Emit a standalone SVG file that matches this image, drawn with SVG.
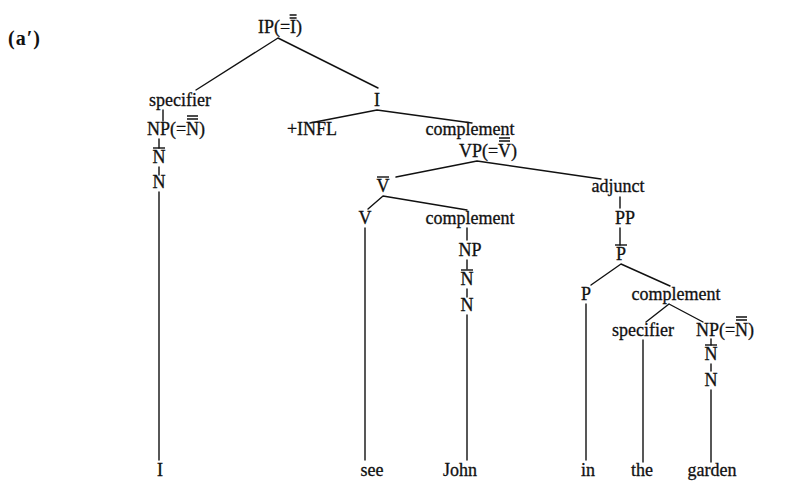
<svg xmlns="http://www.w3.org/2000/svg" width="791" height="487" viewBox="0 0 791 487">
<style>
.t{font-family:"Liberation Serif","DejaVu Serif",serif;font-size:18px;fill:#111;stroke:#111;stroke-width:0.3;text-anchor:middle}
.lbl{font-family:"Liberation Serif","DejaVu Serif",serif;font-size:20px;font-weight:bold;fill:#111;letter-spacing:1px}
.e{stroke:#111;stroke-width:1.4;fill:none;stroke-linecap:round}
.ov{stroke:#111;stroke-width:1.4}
</style>
<rect width="791" height="487" fill="#fff"/>
<text class="lbl" x="8" y="45">(a′)</text>
<g id="edges">
<path class="e" d="M278 38L196 90M278 38L378 88"/>
<path class="e" d="M163 110V121M159 139V148M159 167V175M159 192V460"/>
<path class="e" d="M377 110L310 123M377 110L472 123"/>
<path class="e" d="M477 161L396 177M477 161L601 179"/>
<path class="e" d="M383 196L368 209M383 196L467 210"/>
<path class="e" d="M365 228V460"/>
<path class="e" d="M467 228V240M467 260V269M467 289V297M467 315V460"/>
<path class="e" d="M620 197V208M620 228V245"/>
<path class="e" d="M621 264L591 285M621 264L670 286"/>
<path class="e" d="M669 304L646 322M669 304L703 322"/>
<path class="e" d="M586 304V460"/>
<path class="e" d="M643 340V462"/>
<path class="e" d="M711 339V345M711 364V371M711 390V462"/>
</g>
<g id="n-ip"><text class="t" x="280" y="33">IP(=I)</text><path class="ov" d="M289.6 18H296.6M289.6 15H296.6"/></g>
<g id="n-spec1"><text class="t" x="180" y="106">specifier</text></g>
<g id="n-ibar"><text class="t" x="377" y="106">I</text></g>
<g id="n-np1"><text class="t" x="176" y="135">NP(=N)</text><path class="ov" d="M187 119H198M187 116H198"/></g>
<g id="n-nbar1"><text class="t" x="159" y="163">N</text><path class="ov" d="M153 148H165"/></g>
<g id="n-n1"><text class="t" x="159" y="188">N</text></g>
<g id="n-infl"><text class="t" x="312" y="135">+INFL</text></g>
<g id="n-comp1"><text class="t" x="470" y="135">complement</text></g>
<g id="n-vp"><text class="t" x="488" y="157">VP(=V)</text><path class="ov" d="M499 141H510M499 138H510"/></g>
<g id="n-vbar"><text class="t" x="383" y="192">V</text><path class="ov" d="M377 177H389"/></g>
<g id="n-adjunct"><text class="t" x="618" y="192">adjunct</text></g>
<g id="n-v"><text class="t" x="365" y="224">V</text></g>
<g id="n-comp2"><text class="t" x="470" y="224">complement</text></g>
<g id="n-pp"><text class="t" x="625" y="224">PP</text></g>
<g id="n-np2"><text class="t" x="470" y="256">NP</text></g>
<g id="n-pbar"><text class="t" x="621" y="260">P</text><path class="ov" d="M615 245H627"/></g>
<g id="n-nbar2"><text class="t" x="467" y="285">N</text><path class="ov" d="M461 270H473"/></g>
<g id="n-p"><text class="t" x="586" y="300">P</text></g>
<g id="n-comp3"><text class="t" x="676" y="300">complement</text></g>
<g id="n-n2"><text class="t" x="467" y="311">N</text></g>
<g id="n-spec2"><text class="t" x="643" y="336">specifier</text></g>
<g id="n-np3"><text class="t" x="725" y="336">NP(=N)</text><path class="ov" d="M736 320H747M736 317H747"/></g>
<g id="n-nbar3"><text class="t" x="711" y="360">N</text><path class="ov" d="M705 345H717"/></g>
<g id="n-n3"><text class="t" x="711" y="386">N</text></g>
<g id="leaf-i"><text class="t" x="160" y="476">I</text></g>
<g id="leaf-see"><text class="t" x="372" y="476">see</text></g>
<g id="leaf-john"><text class="t" x="460" y="476">John</text></g>
<g id="leaf-in"><text class="t" x="588" y="476">in</text></g>
<g id="leaf-the"><text class="t" x="642" y="476">the</text></g>
<g id="leaf-garden"><text class="t" x="712" y="476">garden</text></g>
</svg>
